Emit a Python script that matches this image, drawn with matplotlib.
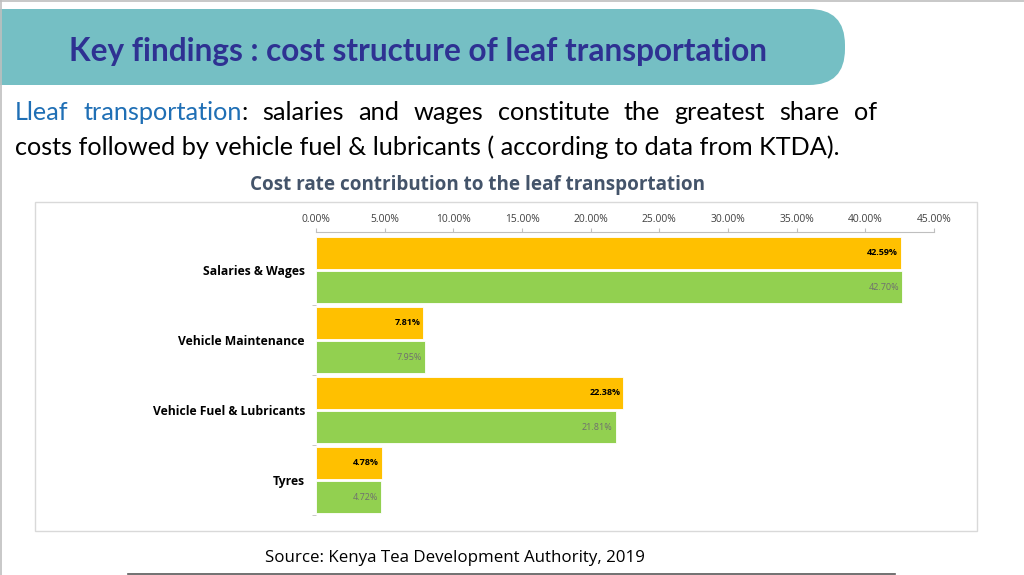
import matplotlib
matplotlib.use("Agg")
import matplotlib.pyplot as plt
from matplotlib.patches import FancyBboxPatch, Rectangle
from matplotlib.lines import Line2D

# data
categories = ["Salaries & Wages", "Vehicle Maintenance", "Vehicle Fuel & Lubricants", "Tyres"]
series_a = [42.59, 7.81, 22.38, 4.78]   # orange
series_b = [42.70, 7.95, 21.81, 4.72]   # green
xticks = [0, 5, 10, 15, 20, 25, 30, 35, 40, 45]

title = "Key findings : cost structure of leaf transportation"
para_blue = "Lleaf transportation"
para_line1 = ": salaries and wages constitute the greatest share of"
para_line2 = "costs followed by vehicle fuel & lubricants ( according to data from KTDA)."
chart_title = "Cost rate contribution to the leaf transportation"
source = "Source: Kenya Tea Development Authority, 2019"

ORANGE = "#FFC000"
GREEN = "#92D050"
TEAL = "#75BFC4"
NAVY = "#2E3192"

fig = plt.figure(figsize=(10.24, 5.75), dpi=100)
bg = fig.add_axes([0, 0, 1, 1])
bg.set_xlim(0, 1024)
bg.set_ylim(575, 0)
bg.axis("off")

# slide border
bg.add_line(Line2D([0, 1024], [0.8, 0.8], color="#BFBFBF", lw=1.2))
bg.add_line(Line2D([0.8, 0.8], [0, 575], color="#BFBFBF", lw=1.2))

# title banner
bg.add_patch(FancyBboxPatch((-80, 9), 925, 76, boxstyle="round,pad=0,rounding_size=36",
                            fc=TEAL, ec="none"))
bg.text(418, 52, title, fontsize=22.7, family="Lato", weight="bold", color=NAVY,
        ha="center", va="center")

# paragraph, first line justified word by word
fig.canvas.draw()
r = fig.canvas.get_renderer()
pieces = [("Lleaf", "#1F6FB5"), ("transportation", "#1F6FB5"), (":", "black")]
pieces += [(w, "black") for w in para_line1[1:].split()]
tmp = [bg.text(0, 112, w, fontsize=18.2, family="Lato", color=c, va="center", ha="left")
       for w, c in pieces]
widths = [t.get_window_extent(r).width for t in tmp]
# ':' sticks to 'transportation'
left, right = 15, 877
groups = [[0], [1, 2]] + [[i] for i in range(3, len(tmp))]
gw = [sum(widths[i] for i in g) for g in groups]
gap = (right - left - sum(gw)) / (len(groups) - 1)
x = left
for g, w in zip(groups, gw):
    xx = x
    for i in g:
        tmp[i].set_x(xx)
        xx += widths[i]
    x += w + gap
bg.text(15, 147, para_line2, fontsize=18.2, family="Lato", color="black", va="center", ha="left")

# chart title and frame
bg.text(478, 185, chart_title, fontsize=13.6, family="Open Sans", weight="bold",
        color="#44546A", ha="center", va="center")
bg.add_patch(Rectangle((35, 202), 942, 329, fc="none", ec="#D9D9D9", lw=1))

# source
bg.text(265, 558, source, fontsize=12.2, family="Open Sans", color="black", ha="left", va="center")
bg.add_line(Line2D([128, 895], [573.5, 573.5], color="#595959", lw=1.2))

# bar chart
ax = fig.add_axes([316 / 1024, 1 - 515 / 575, 618 / 1024, 283 / 575])
ypos = list(range(len(categories)))
h = 0.46
off = 0.243
ax.barh([y - off for y in ypos], series_a, height=h, color=ORANGE, edgecolor="white", lw=0.6)
ax.barh([y + off for y in ypos], series_b, height=h, color=GREEN, edgecolor="white", lw=0.6)
for y, a, b in zip(ypos, series_a, series_b):
    ax.text(a - 0.22, y - off, f"{a:.2f}%", ha="right", va="center", fontsize=6.5,
            family="Open Sans", weight="bold", color="black")
    ax.text(b - 0.22, y + off, f"{b:.2f}%", ha="right", va="center", fontsize=6.5,
            family="Open Sans", color="#6F6F6F")

ax.set_xlim(0, 45)
ax.set_ylim(3.5, -0.543)
ax.xaxis.tick_top()
ax.set_xticks(xticks)
ax.set_xticklabels([f"{v:.2f}%" for v in xticks], fontsize=7.4, family="Open Sans", color="#404040")
ax.tick_params(axis="x", length=3, color="#BFBFBF", pad=2)
ax.set_yticks(ypos)
ax.set_yticklabels(categories, fontsize=8.7, family="Open Sans", weight="bold")
ax.tick_params(axis="y", length=0, pad=8)
ax.set_yticks([0.5, 1.5, 2.5, 3.5], minor=True)
ax.tick_params(axis="y", which="minor", length=3, color="#BFBFBF")
for s in ["right", "bottom", "left"]:
    ax.spines[s].set_visible(False)
ax.spines["top"].set_color("#BFBFBF")
ax.patch.set_alpha(0)

fig.savefig("out.png", dpi=100)
